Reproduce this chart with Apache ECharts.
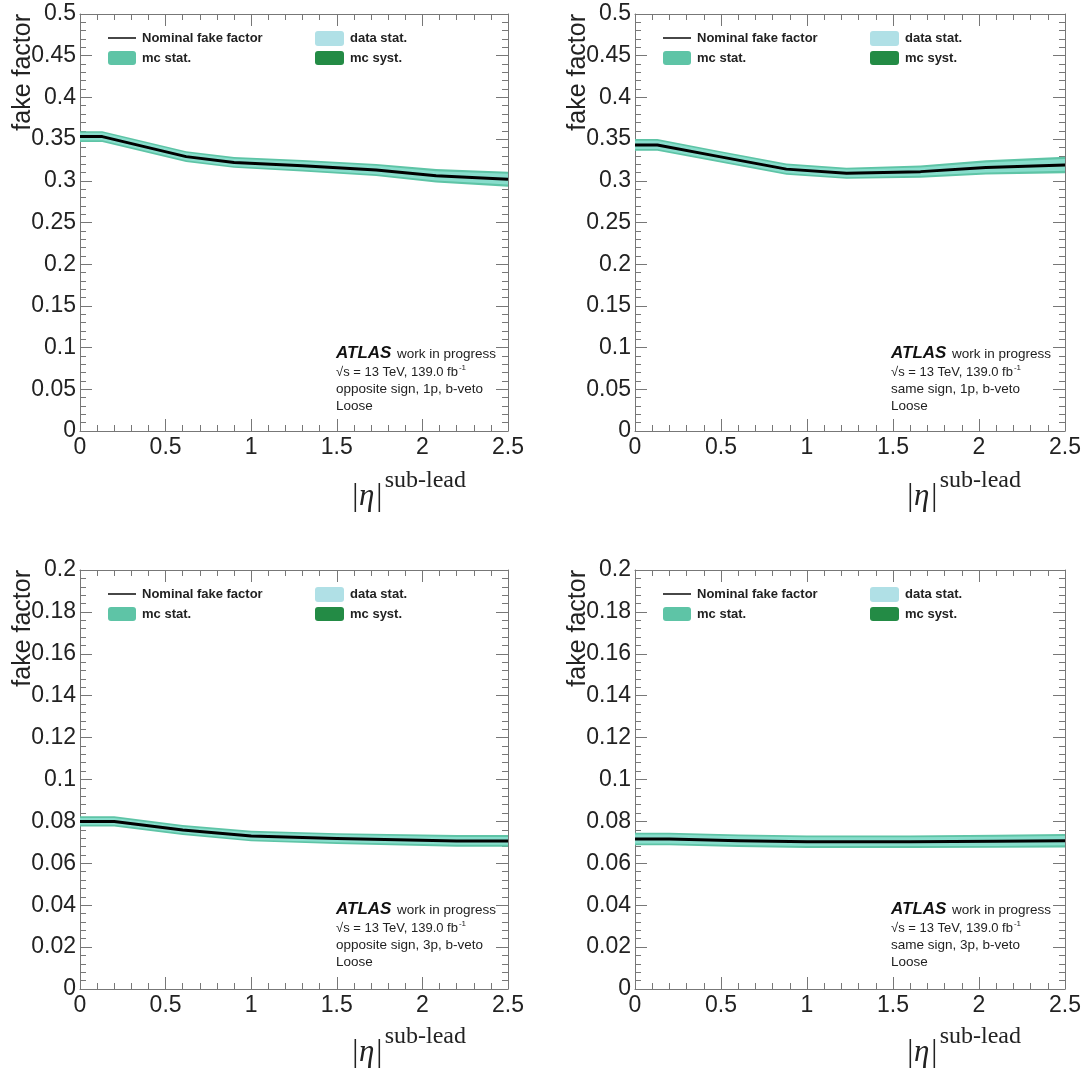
<!DOCTYPE html>
<html>
<head>
<meta charset="utf-8">
<script src="https://cdn.jsdelivr.net/npm/echarts@6/dist/echarts.min.js"></script>
<style>
  html, body { margin: 0; padding: 0; background: #fff; }
  #chart { width: 1090px; height: 1068px; }
</style>
</head>
<body>
<div id="chart"></div>
<script>
// |eta| sub-lead points and fake factors
var osP1X = [0, 0.13, 0.62, 0.9, 1.3, 1.73, 2.08, 2.5];
var osP1Y = [0.353, 0.353, 0.329, 0.322, 0.318, 0.313, 0.306, 0.302];
var osP1Mc = [0.0065, 0.0065, 0.0065, 0.0065, 0.0068, 0.0072, 0.008, 0.009];
var osP1Data = [0.0045, 0.0045, 0.0045, 0.0045, 0.0047, 0.005, 0.0056, 0.0064];

var ssP1X = [0, 0.13, 0.49, 0.88, 1.23, 1.66, 2.04, 2.5];
var ssP1Y = [0.343, 0.343, 0.329, 0.314, 0.309, 0.311, 0.316, 0.319];
var ssP1Mc = [0.007, 0.007, 0.0068, 0.0066, 0.0066, 0.0072, 0.0085, 0.0098];
var ssP1Data = [0.005, 0.005, 0.0048, 0.0046, 0.0046, 0.005, 0.006, 0.007];

var osP3X = [0, 0.2, 0.6, 1.0, 1.5, 2.2, 2.5];
var osP3Y = [0.0800, 0.0800, 0.0759, 0.0730, 0.0718, 0.0707, 0.0707];
var osP3Mc = [0.0024, 0.0024, 0.0024, 0.0025, 0.0026, 0.0028, 0.0028];
var osP3Data = [0.0016, 0.0016, 0.0016, 0.0017, 0.0018, 0.0019, 0.0019];

var ssP3X = [0, 0.2, 0.6, 1.0, 1.6, 2.1, 2.5];
var ssP3Y = [0.0716, 0.0716, 0.0708, 0.0703, 0.0703, 0.0705, 0.0708];
var ssP3Mc = [0.0030, 0.0030, 0.0030, 0.0030, 0.0030, 0.0031, 0.0032];
var ssP3Data = [0.0021, 0.0021, 0.0021, 0.0021, 0.0021, 0.0022, 0.0022];

var regionLabels = ['opposite sign, 1p, b-veto', 'same sign, 1p, b-veto',
                    'opposite sign, 3p, b-veto', 'same sign, 3p, b-veto'];

var panels = [
  {left: 80, top: 14, width: 428, height: 417, ymax: 0.5, yint: 0.05, x: osP1X, y: osP1Y, mc: osP1Mc, ds: osP1Data},
  {left: 635, top: 14, width: 430, height: 417, ymax: 0.5, yint: 0.05, x: ssP1X, y: ssP1Y, mc: ssP1Mc, ds: ssP1Data},
  {left: 80, top: 570, width: 428, height: 419, ymax: 0.2, yint: 0.02, x: osP3X, y: osP3Y, mc: osP3Mc, ds: osP3Data},
  {left: 635, top: 570, width: 430, height: 419, ymax: 0.2, yint: 0.02, x: ssP3X, y: ssP3Y, mc: ssP3Mc, ds: ssP3Data}
];

var frameColor = '#777';
var mcColor = '#5ec4a6';
var dataColor = '#b0e0e6';
var bandInner = '#88ddcc';
var systColor = '#238b45';
var sans = 'Liberation Sans, Arial, sans-serif';
var serif = 'Liberation Serif, Times New Roman, serif';

var grids = [], xAxes = [], yAxes = [], series = [], graphics = [];

function tickCfg(){
  return {
    axisLine: {show: true, onZero: false, lineStyle: {color: frameColor, width: 1}},
    axisTick: {show: true, inside: true, length: 12, lineStyle: {color: frameColor}},
    minorTick: {show: true, splitNumber: 5, length: 6, lineStyle: {color: frameColor}},
    splitLine: {show: false}
  };
}

// band drawn as one polygon: upper edge left->right, lower edge right->left
function bandSeries(p, errs, color, xi, yi, z){
  var rows = [];
  for (var k = 0; k < p.x.length; k++) rows.push([p.x[k], p.y[k] - errs[k], p.y[k] + errs[k]]);
  return {
    type: 'custom', xAxisIndex: xi, yAxisIndex: yi, silent: true, z: z,
    data: [0],
    renderItem: function(params, api){
      var pts = [];
      for (var k = 0; k < rows.length; k++) pts.push(api.coord([rows[k][0], rows[k][2]]));
      for (var k = rows.length - 1; k >= 0; k--) pts.push(api.coord([rows[k][0], rows[k][1]]));
      return {type: 'polygon', shape: {points: pts}, style: {fill: color, stroke: null}};
    }
  };
}

panels.forEach(function(p, i){
  grids.push({left: p.left, top: p.top, width: p.width, height: p.height,
              containLabel: false, outerBoundsMode: 'none'});

  var xb = tickCfg();
  Object.assign(xb, {type: 'value', gridIndex: i, position: 'bottom', min: 0, max: 2.5, interval: 0.5,
    axisLabel: {fontSize: 23, color: '#222', fontFamily: sans, margin: 5, showMinLabel: true, showMaxLabel: true}});
  var xt = tickCfg();
  Object.assign(xt, {type: 'value', gridIndex: i, position: 'top', min: 0, max: 2.5, interval: 0.5,
    axisLabel: {show: false}});
  var yl = tickCfg();
  Object.assign(yl, {type: 'value', gridIndex: i, position: 'left', min: 0, max: p.ymax, interval: p.yint,
    axisLabel: {fontSize: 23, color: '#222', fontFamily: sans, margin: 4, showMinLabel: true, showMaxLabel: true}});
  var yr = tickCfg();
  Object.assign(yr, {type: 'value', gridIndex: i, position: 'right', min: 0, max: p.ymax, interval: p.yint,
    axisLabel: {show: false}});
  xAxes.push(xb, xt);
  yAxes.push(yl, yr);

  var xi = 2 * i, yi = 2 * i;
  series.push(bandSeries(p, p.mc, mcColor, xi, yi, 2));
  series.push(bandSeries(p, p.ds, bandInner, xi, yi, 3));
  var nominal = [];
  for (var k = 0; k < p.x.length; k++) nominal.push([p.x[k], p.y[k]]);
  series.push({type: 'line', name: 'Nominal fake factor', xAxisIndex: xi, yAxisIndex: yi, data: nominal,
    symbol: 'none', silent: true, lineStyle: {width: 3, color: '#000', join: 'round'}, z: 5});

  var gl = p.left, gt = p.top;
  function txt(x, y, s, extra){
    var st = Object.assign({text: s, fontSize: 13, fontFamily: sans, fill: '#222', verticalAlign: 'middle'}, extra || {});
    return {type: 'text', x: x, y: y, z: 100, style: st};
  }
  // y title
  var yt = txt(gl - 57, gt, 'fake factor', {fontSize: 25, align: 'right'});
  yt.rotation = Math.PI / 2;
  graphics.push(yt);
  // x title
  graphics.push(txt(gl + 386, gt + 467, 'sub-lead', {fontSize: 24, fontFamily: serif, align: 'right'}));
  graphics.push(txt(gl + 303, gt + 483, '|η|', {fontSize: 31, fontFamily: serif, fontStyle: 'italic', align: 'right'}));
  // legend
  graphics.push({type: 'line', z: 100, shape: {x1: gl + 28, y1: gt + 24, x2: gl + 56, y2: gt + 24}, style: {stroke: '#333', lineWidth: 1.8}});
  graphics.push(txt(gl + 62, gt + 24, 'Nominal fake factor', {fontWeight: 'bold'}));
  graphics.push({type: 'rect', z: 100, shape: {x: gl + 28, y: gt + 37, width: 28, height: 14, r: 3}, style: {fill: mcColor}});
  graphics.push(txt(gl + 62, gt + 44, 'mc stat.', {fontWeight: 'bold'}));
  graphics.push({type: 'rect', z: 100, shape: {x: gl + 235, y: gt + 17, width: 29, height: 15, r: 3}, style: {fill: dataColor}});
  graphics.push(txt(gl + 270, gt + 24, 'data stat.', {fontWeight: 'bold'}));
  graphics.push({type: 'rect', z: 100, shape: {x: gl + 235, y: gt + 37, width: 29, height: 14, r: 3}, style: {fill: systColor}});
  graphics.push(txt(gl + 270, gt + 44, 'mc syst.', {fontWeight: 'bold'}));
  // ATLAS label
  graphics.push(txt(gl + 256, gt + 339, 'ATLAS', {fontSize: 17, fontWeight: 'bold', fontStyle: 'italic', fill: '#111'}));
  graphics.push(txt(gl + 317, gt + 340, 'work in progress', {fontSize: 13.5}));
  graphics.push(txt(gl + 256, gt + 358, '√s = 13 TeV, 139.0 fb{sup|-1}',
    {rich: {sup: {fontSize: 8, fontFamily: sans, fill: '#222', padding: [0, 0, 8, 1]}}}));
  graphics.push(txt(gl + 256, gt + 375, regionLabels[i], {fontSize: 13.5}));
  graphics.push(txt(gl + 256, gt + 392, 'Loose', {fontSize: 13.5}));
});

var chart = echarts.init(document.getElementById('chart'), null, {renderer: 'canvas'});
chart.setOption({
  backgroundColor: '#fff',
  animation: false,
  grid: grids,
  xAxis: xAxes,
  yAxis: yAxes,
  series: series,
  graphic: graphics
});
</script>
</body>
</html>
